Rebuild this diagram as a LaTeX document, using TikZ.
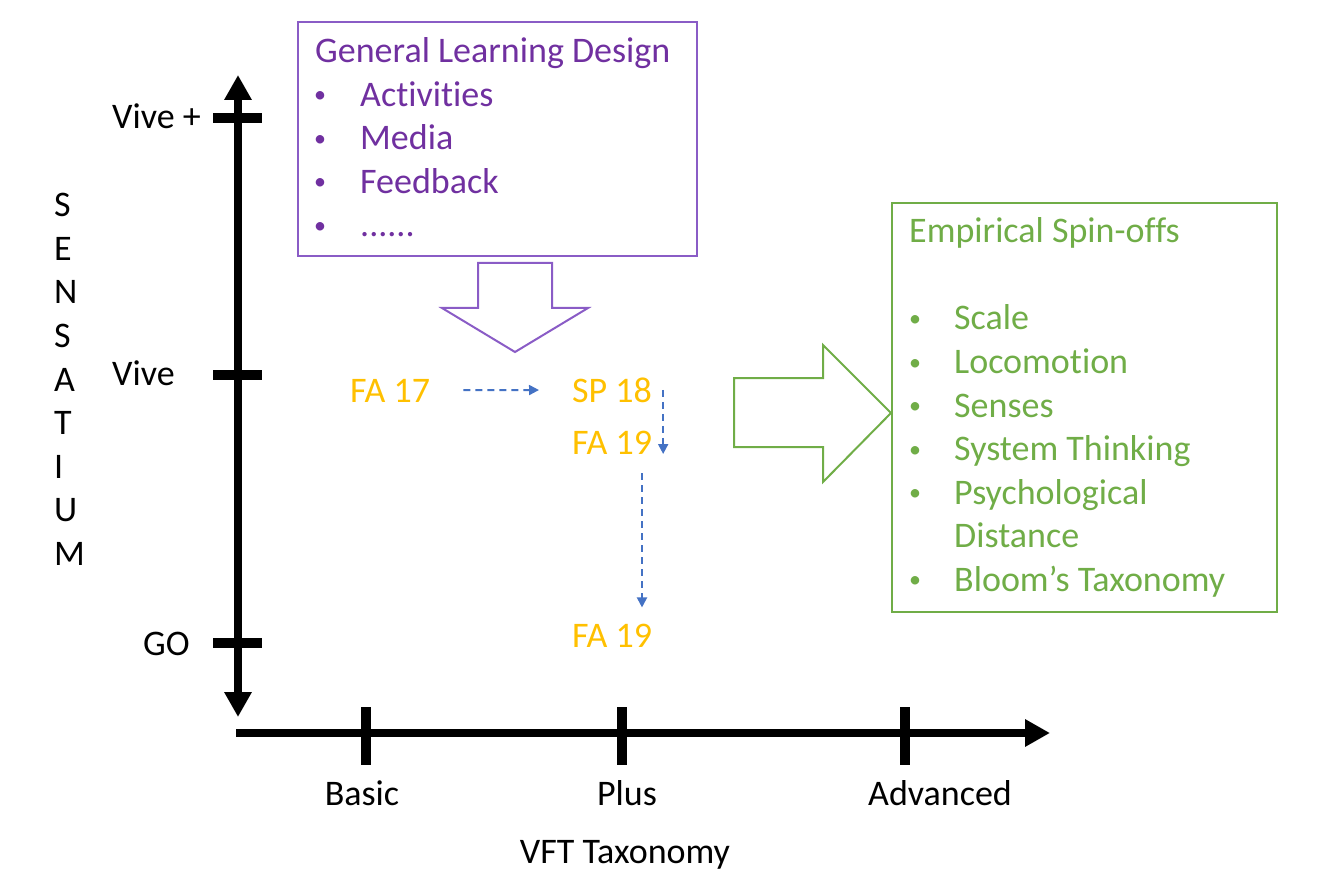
\documentclass[tikz,border=0pt]{standalone}
\usepackage{fontspec}
\setmainfont{Carlito}[Ligatures=NoCommon]
\usetikzlibrary{arrows.meta}
\definecolor{gldpurple}{HTML}{7030A0}
\definecolor{gldline}{HTML}{8A5CC6}
\definecolor{spingreen}{HTML}{70AD47}
\definecolor{termgold}{HTML}{FFC000}
\definecolor{flowblue}{HTML}{4472C4}
\newcommand{\smallbullet}{\raisebox{3.5pt}{\fontsize{24}{24}\selectfont\textbullet}}
\begin{document}
\begin{tikzpicture}[x=1pt,y=-1pt,
	txt/.style={font=\fontsize{36}{43}\selectfont, inner sep=0pt},
	axis/.style={line width=8.5pt},
	tickmark/.style={line width=10pt},
	flow/.style={draw=flowblue, line width=2pt, dash pattern=on 7pt off 5pt, -{Triangle[length=10pt,width=10pt]}},
	term/.style={txt, text=termgold}]
				\useasboundingbox (0,0) rectangle (1325,877);

				\coordinate (ytop) at (238,75);
				\coordinate (ybot) at (238,717);
				\coordinate (xl) at (236,733);
				\coordinate (xr) at (1050,733);
				\draw[axis,{Triangle[length=25pt,width=26pt]}-{Triangle[length=25pt,width=26pt]}] (ytop) -- (ybot);
				\draw[axis,-{Triangle[length=25pt,width=26pt]}] (xl) -- (xr);
				\foreach \y in {118,375,643}
					\draw[tickmark] (213,\y) -- (262,\y);
				\foreach \x in {366,622,905}
					\draw[tickmark] (\x,707) -- (\x,765);

				\node[txt,anchor=base west] (viveplus) at (112,129) {Vive +};
				\node[txt,anchor=base west] (vive) at (112,385) {Vive};
				\node[txt,anchor=base west] (go) at (143,655) {GO};
				\foreach \l [count=\i from 0] in {S,E,N,S,A,T,I,U,M}
					\node[txt,anchor=base west] (sens\i) at (54,217+43.5*\i) {\l};

				\node[txt,anchor=base] (basic) at (362,805) {Basic};
				\node[txt,anchor=base] (plus) at (627,805) {Plus};
				\node[txt,anchor=base] (adv) at (940,805) {Advanced};
				\node[txt,anchor=base] (vft) at (625,863) {VFT Taxonomy};

				\draw[gldline,line width=2pt] (298,22) rectangle (697,256);
				\node[txt,text=gldpurple,anchor=base west] (gld) at (315,63) {General Learning Design};
				\foreach \t [count=\i] in {Activities,Media,Feedback} {
					\node[txt,text=gldpurple,anchor=base] (gldb\i) at (320,63+43.5*\i) {\smallbullet};
					\node[txt,text=gldpurple,anchor=base west] (gldi\i) at (360,63+43.5*\i) {\t};
				}
				\node[txt,text=gldpurple,anchor=base] (gldb4) at (320,237) {\smallbullet};
				\node[txt,text=gldpurple,anchor=base west] (gldi4) at (360,237) {......};
				\draw[gldline,line width=2pt] (478,263) -- (552,263) -- (552,308) -- (588,308)
					-- (515,352) -- (442,308) -- (478,308) -- cycle;

				\node[term,anchor=base west] (fa17) at (350,402) {FA 17};
				\node[term,anchor=base west] (sp18) at (572,402) {SP 18};
				\node[term,anchor=base west] (fa19a) at (572,454) {FA 19};
				\node[term,anchor=base west] (fa19b) at (572,647) {FA 19};
				\draw[flow,shorten <=33pt,shorten >=33pt] (fa17) -- (sp18);
				\draw[flow] ([xshift=11pt]sp18.east) -- ([xshift=11pt]sp18.east |- fa19a.base);
				\draw[flow,shorten <=19pt,shorten >=16pt] ([xshift=70pt]fa19a.south west) -- ([xshift=70pt]fa19b.north west);

				\draw[spingreen,line width=2pt] (734,378) -- (823,378) -- (823,345) -- (891,413)
					-- (823,482) -- (823,447) -- (734,447) -- cycle;
				\draw[spingreen,line width=2pt] (892,203) rectangle (1277,612);
				\node[txt,text=spingreen,anchor=base west] (spin) at (909,243) {Empirical Spin-offs};
				\foreach \t/\k in {Scale/0,Locomotion/1,Senses/2,System Thinking/3,Psychological/4,Bloom’s Taxonomy/6} {
					\node[txt,text=spingreen,anchor=base] (spinb\k) at (915,330+43.5*\k) {\smallbullet};
					\node[txt,text=spingreen,anchor=base west] (spini\k) at (954,330+43.5*\k) {\t};
				}
				\node[txt,text=spingreen,anchor=base west] (spini5) at (954,547.5) {Distance};
			\end{tikzpicture}
\end{document}
